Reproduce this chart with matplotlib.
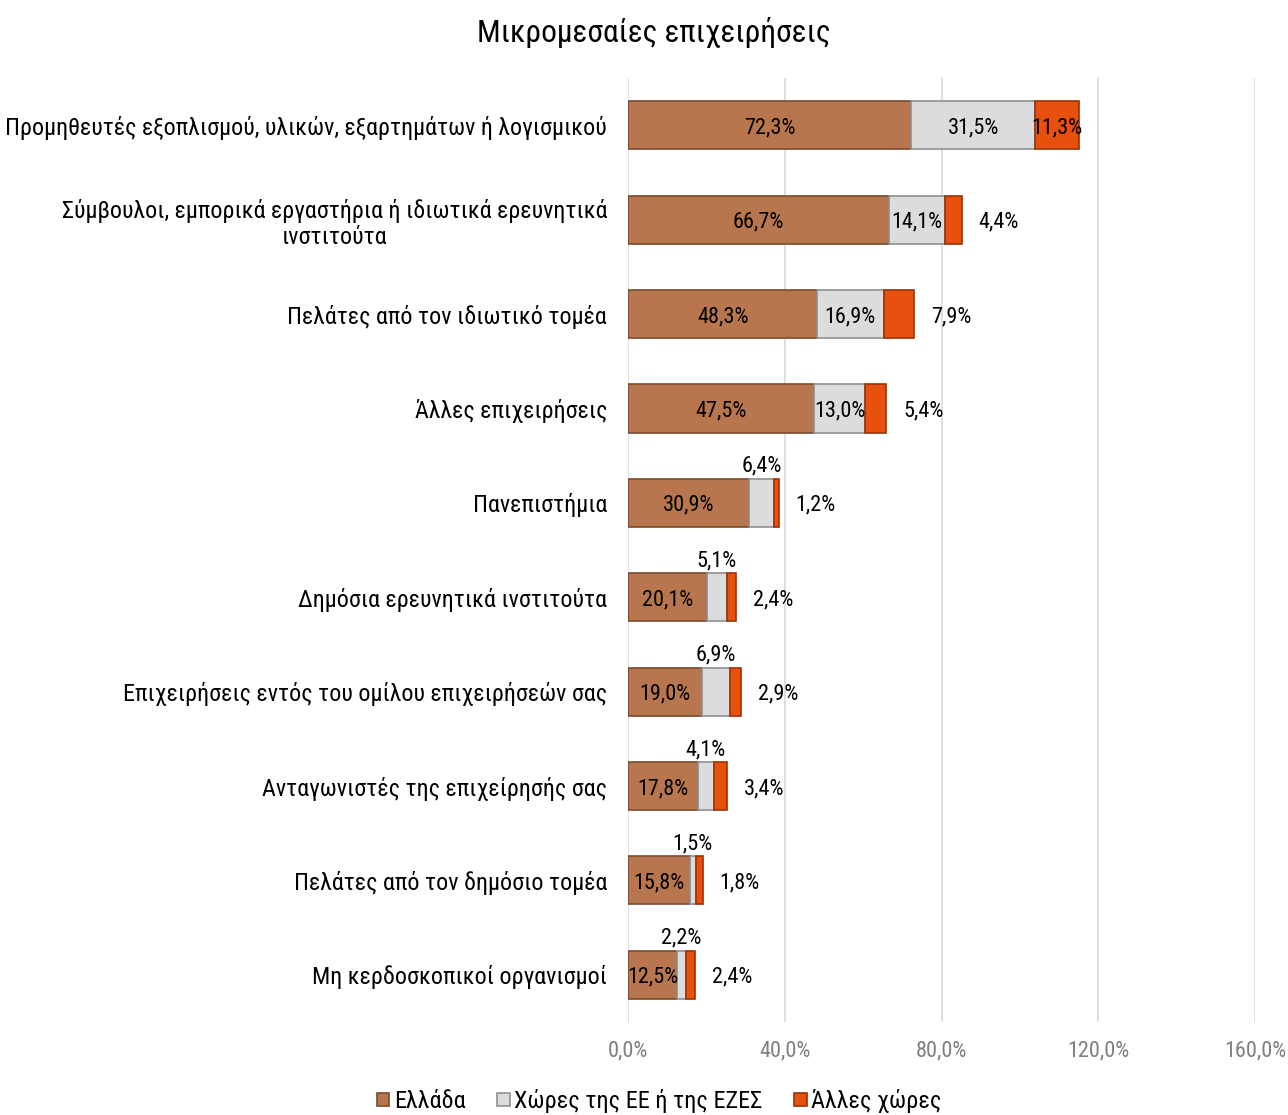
import numpy as np
import matplotlib
matplotlib.use("Agg")
import matplotlib.pyplot as plt
from matplotlib import font_manager

# pick a narrow font if one is present
names = set(f.name for f in font_manager.fontManager.ttflist)
fam = 'Roboto Condensed' if 'Roboto Condensed' in names else 'Roboto'
plt.rcParams['font.family'] = [fam, 'DejaVu Sans']

# data (%)
categories = [
    "Προμηθευτές εξοπλισμού, υλικών, εξαρτημάτων ή λογισμικού",
    "Σύμβουλοι, εμπορικά εργαστήρια ή ιδιωτικά ερευνητικά\nινστιτούτα",
    "Πελάτες από τον ιδιωτικό τομέα",
    "Άλλες επιχειρήσεις",
    "Πανεπιστήμια",
    "Δημόσια ερευνητικά ινστιτούτα",
    "Επιχειρήσεις εντός του ομίλου επιχειρήσεών σας",
    "Ανταγωνιστές της επιχείρησής σας",
    "Πελάτες από τον δημόσιο τομέα",
    "Μη κερδοσκοπικοί οργανισμοί",
]
greece = [72.3, 66.7, 48.3, 47.5, 30.9, 20.1, 19.0, 17.8, 15.8, 12.5]
eu = [31.5, 14.1, 16.9, 13.0, 6.4, 5.1, 6.9, 4.1, 1.5, 2.2]
other = [11.3, 4.4, 7.9, 5.4, 1.2, 2.4, 2.9, 3.4, 1.8, 2.4]
series_names = ["Ελλάδα", "Χώρες της ΕΕ ή της ΕΖΕΣ", "Άλλες χώρες"]
xticks = [0, 40, 80, 120, 160]

colors = ["#B8764E", "#DADCDE", "#E8500E"]
edges = ["#7A4A2E", "#8E9092", "#9A3206"]

def fmt(v):
    return f"{v:.1f}".replace(".", ",") + "%"

fig = plt.figure(figsize=(12.88, 11.15), dpi=100)
ax = fig.add_axes([0.4876, 0.0834, 0.4868, 0.8466])

y = np.arange(len(categories))
g = np.array(greece)
e = np.array(eu)
o = np.array(other)
h = 0.51

b1 = ax.barh(y, g, height=h, color=colors[0], edgecolor=edges[0], linewidth=1.2, label=series_names[0], zorder=3)
b2 = ax.barh(y, e, left=g, height=h, color=colors[1], edgecolor=edges[1], linewidth=1.2, label=series_names[1], zorder=3)
b3 = ax.barh(y, o, left=g + e, height=h, color=colors[2], edgecolor=edges[2], linewidth=1.2, label=series_names[2], zorder=3)

fs = 16
for i in range(len(categories)):
    ax.text(g[i] / 2, y[i], fmt(g[i]), ha='center', va='center_baseline', fontsize=fs, zorder=4)
    if e[i] >= 10:
        ax.text(g[i] + e[i] / 2, y[i], fmt(e[i]), ha='center', va='center_baseline', fontsize=fs, zorder=4)
    else:
        ax.text(g[i] + e[i] / 2, y[i] - h / 2 - 0.02, fmt(e[i]), ha='center', va='bottom', fontsize=fs, zorder=4)
    if o[i] >= 10:
        ax.text(g[i] + e[i] + o[i] / 2, y[i], fmt(o[i]), ha='center', va='center_baseline', fontsize=fs, zorder=4)
    else:
        ax.annotate(fmt(o[i]), (g[i] + e[i] + o[i], y[i]), xytext=(12, 0), textcoords='offset points',
                    ha='left', va='center_baseline', fontsize=fs, zorder=4)

ax.set_xlim(0, 160)
ax.set_ylim(len(categories) - 0.5, -0.5)
ax.set_xticks(xticks)
ax.set_xticklabels([fmt(t) for t in xticks], color="#7F7F7F", fontsize=16)
ax.set_yticks(y)
ax.set_yticklabels(categories, fontsize=17.3, multialignment='center')
ax.tick_params(axis='y', length=0, pad=15)
ax.tick_params(axis='x', length=0, pad=13)
ax.grid(axis='x', color="#D9D9D9", linewidth=1.2, zorder=0)
for s in ax.spines.values():
    s.set_visible(False)

fig.suptitle("Μικρομεσαίες επιχειρήσεις", fontsize=22.6, x=0.508, y=0.985)
fig.legend(handles=[b1, b2, b3], loc='lower center', bbox_to_anchor=(0.512, -0.018), ncol=3,
           frameon=False, fontsize=17.5, handlelength=0.5, handleheight=0.5, handletextpad=0.2,
           columnspacing=1.3)

fig.savefig("out.png", dpi=100)
